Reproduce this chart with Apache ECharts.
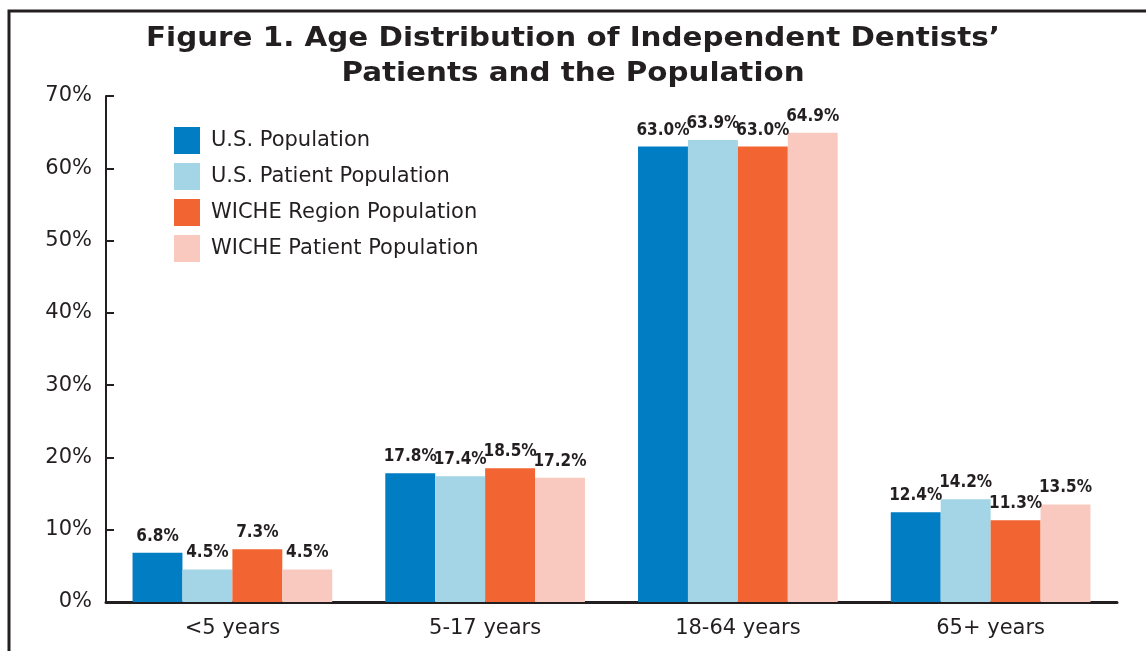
<!DOCTYPE html>
<html>
<head>
<meta charset="utf-8">
<title>Age Distribution of Independent Dentists' Patients and the Population</title>
<script src="https://cdn.jsdelivr.net/npm/echarts@6/dist/echarts.min.js"></script>
<style>
  html, body { margin: 0; padding: 0; background: #ffffff; }
  #chart { width: 1146px; height: 651px; }
</style>
</head>
<body>
<div id="chart"></div>
<script>
// Age groups on the horizontal axis
const categories = ['<5 years', '5-17 years', '18-64 years', '65+ years'];

// Share of each group, in percent
const usPopulation = [6.8, 17.8, 63.0, 12.4];
const usPatientPopulation = [4.5, 17.4, 63.9, 14.2];
const wicheRegionPopulation = [7.3, 18.5, 63.0, 11.3];
const wichePatientPopulation = [4.5, 17.2, 64.9, 13.5];

const seriesNames = [
  'U.S. Population',
  'U.S. Patient Population',
  'WICHE Region Population',
  'WICHE Patient Population'
];
const seriesColors = ['#007dc3', '#a3d5e6', '#f26532', '#f9c9c0'];
const seriesData = [usPopulation, usPatientPopulation, wicheRegionPopulation, wichePatientPopulation];

const titleLines = [
  'Figure 1. Age Distribution of Independent Dentists\u2019',
  'Patients and the Population'
];

const baseFont = '"DejaVu Sans", Verdana, sans-serif';
const ink = '#231f20';

const chart = echarts.init(document.getElementById('chart'), null, { renderer: 'canvas' });

const series = seriesData.map((values, i) => ({
  name: seriesNames[i],
  type: 'bar',
  data: values,
  barGap: '0%',
  barCategoryGap: '21%',
  itemStyle: { color: seriesColors[i] },
  label: {
    show: true,
    position: 'top',
    distance: 8,
    formatter: p => p.value.toFixed(1) + '%',
    fontFamily: '"Liberation Sans Narrow", "DejaVu Sans Condensed", sans-serif',
    fontWeight: 'bold',
    fontSize: 17,
    color: ink
  },
  emphasis: { disabled: true }
}));

// Two-line heading, widened slightly to the proportions of a wide bold face
const titleGraphics = titleLines.map((line, i) => ({
  type: 'text',
  silent: true,
  x: 573,
  y: 39 + i * 35,
  scaleX: 1.13,
  style: {
    text: line,
    textAlign: 'center',
    textVerticalAlign: 'middle',
    fontFamily: baseFont,
    fontWeight: 'bold',
    fontSize: 26,
    fill: ink
  }
}));

chart.setOption({
  animation: false,
  backgroundColor: '#ffffff',
  legend: {
    orient: 'vertical',
    left: 174,
    top: 127,
    padding: 0,
    itemWidth: 26,
    itemHeight: 27,
    itemGap: 9,
    icon: 'rect',
    selectedMode: false,
    textStyle: {
      fontFamily: baseFont,
      fontSize: 21,
      color: ink,
      padding: [0, 0, 0, 6]
    },
    data: seriesNames
  },
  grid: {
    left: 106,
    right: 29,
    top: 96,
    bottom: 49,
    containLabel: false
  },
  xAxis: {
    type: 'category',
    data: categories,
    axisLine: { show: true, lineStyle: { color: ink, width: 3 } },
    axisTick: { show: false },
    axisLabel: {
      fontFamily: baseFont,
      fontSize: 21,
      color: ink,
      margin: 16
    }
  },
  yAxis: {
    type: 'value',
    min: 0,
    max: 70,
    interval: 10,
    splitLine: { show: false },
    axisLine: { show: true, lineStyle: { color: ink, width: 2 } },
    axisTick: { show: true, inside: true, length: 8, lineStyle: { color: ink, width: 2 } },
    axisLabel: {
      formatter: '{value}%',
      fontFamily: baseFont,
      fontSize: 21,
      color: ink,
      margin: 14
    }
  },
  graphic: [
    // Frame around the figure (top and left edges)
    {
      type: 'polyline',
      silent: true,
      shape: { points: [[9, 651], [9, 11], [1146, 11]] },
      style: { stroke: ink, lineWidth: 3, fill: null }
    }
  ].concat(titleGraphics),
  series: series
});
</script>
</body>
</html>
